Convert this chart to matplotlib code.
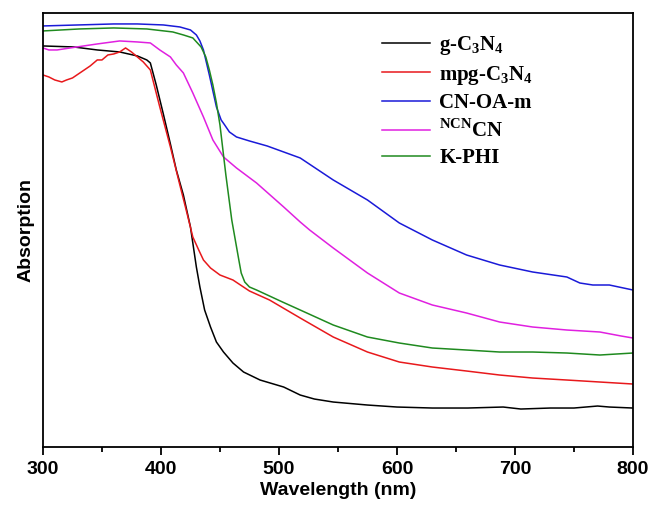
import matplotlib
matplotlib.use('Agg')
import matplotlib.pyplot as plt
from matplotlib.ticker import MultipleLocator

# Values (wavelength in nm, absorption in a.u.)
g_wl = [300, 326, 346, 365, 380, 388, 391, 396, 402, 408, 413, 419, 425, 430, 433,
        437, 442, 447, 453, 461, 470, 484, 504, 518, 530, 546, 575, 600, 630, 660,
        690, 705, 730, 750, 770, 780, 800]
g_abs = [4.01, 4.00, 3.97, 3.95, 3.91, 3.87, 3.84, 3.62, 3.33, 3.03, 2.77, 2.52,
         2.20, 1.80, 1.60, 1.37, 1.20, 1.05, 0.95, 0.84, 0.75, 0.67, 0.60, 0.52,
         0.48, 0.45, 0.42, 0.40, 0.39, 0.39, 0.40, 0.38, 0.39, 0.39, 0.41, 0.40,
         0.39]

mpg_wl = [300, 305, 310, 316, 320, 325, 330, 335, 340, 346, 350, 355, 360, 365,
          370, 375, 380, 385, 391, 399, 408, 416, 422, 427, 432, 436, 442, 450,
          461, 475, 492, 518, 546, 575, 602, 630, 659, 687, 715, 744, 772, 800]
mpg_abs = [3.72, 3.70, 3.67, 3.65, 3.67, 3.69, 3.73, 3.77, 3.81, 3.87, 3.87, 3.92,
           3.93, 3.95, 3.99, 3.95, 3.90, 3.85, 3.77, 3.40, 3.00, 2.62, 2.34, 2.10,
           1.97, 1.87, 1.79, 1.72, 1.67, 1.56, 1.47, 1.29, 1.10, 0.95, 0.85, 0.80,
           0.76, 0.72, 0.69, 0.67, 0.65, 0.63]

oa_wl = [300, 330, 360, 380, 402, 416, 425, 430, 433, 436, 441, 447, 451, 454,
         458, 464, 475, 490, 504, 518, 546, 575, 602, 630, 659, 687, 715, 744,
         755, 766, 780, 800]
oa_abs = [4.21, 4.22, 4.23, 4.23, 4.22, 4.20, 4.17, 4.12, 4.06, 3.97, 3.72, 3.40,
          3.27, 3.22, 3.15, 3.10, 3.06, 3.01, 2.95, 2.89, 2.67, 2.47, 2.24, 2.07,
          1.92, 1.82, 1.75, 1.70, 1.64, 1.62, 1.62, 1.57]

ncn_wl = [300, 305, 312, 323, 346, 365, 380, 391, 399, 408, 413, 419, 427, 436,
          444, 453, 464, 481, 504, 518, 526, 546, 575, 602, 630, 659, 687, 715,
          744, 772, 790, 800]
ncn_abs = [3.99, 3.97, 3.97, 3.99, 4.03, 4.06, 4.05, 4.04, 3.97, 3.90, 3.82, 3.74,
           3.54, 3.30, 3.07, 2.90, 2.79, 2.64, 2.40, 2.25, 2.17, 1.99, 1.74, 1.54,
           1.42, 1.34, 1.25, 1.20, 1.17, 1.15, 1.11, 1.09]

phi_wl = [300, 331, 360, 388, 410, 419, 427, 434, 438, 441, 444, 447, 450, 452,
          455, 460, 463, 466, 468, 471, 475, 481, 503, 518, 546, 575, 602, 630,
          659, 687, 715, 744, 772, 800]
phi_abs = [4.16, 4.18, 4.19, 4.18, 4.15, 4.12, 4.09, 4.00, 3.90, 3.77, 3.62, 3.44,
           3.22, 3.02, 2.72, 2.27, 2.07, 1.87, 1.74, 1.65, 1.60, 1.57, 1.45, 1.37,
           1.22, 1.10, 1.04, 0.99, 0.97, 0.95, 0.95, 0.94, 0.92, 0.94]

plt.rcParams['mathtext.fontset'] = 'custom'
plt.rcParams['mathtext.rm'] = 'Liberation Serif:bold'
plt.rcParams['mathtext.bf'] = 'Liberation Serif:bold'

fig = plt.figure(figsize=(6.57, 5.18), dpi=100)
ax = fig.add_axes([0.0654, 0.137, 0.898, 0.838])

ax.plot(g_wl, g_abs, color='black', lw=1.1, label='g-C$_3$N$_4$')
ax.plot(mpg_wl, mpg_abs, color='#e8191c', lw=1.1, label='mpg-C$_3$N$_4$')
ax.plot(oa_wl, oa_abs, color='#1a1ad8', lw=1.1, label='CN-OA-m')
ax.plot(ncn_wl, ncn_abs, color='#e020e0', lw=1.1, label=r'$^{\mathrm{NCN}}$CN')
ax.plot(phi_wl, phi_abs, color='#1f8a1f', lw=1.1, label='K-PHI')

ax.set_xlim(300, 800)
ax.set_ylim(0, 4.34)
ax.xaxis.set_major_locator(MultipleLocator(100))
ax.xaxis.set_minor_locator(MultipleLocator(50))
ax.set_yticks([])
ax.tick_params(axis='x', which='major', direction='out', length=6, width=1.3, pad=4)
ax.tick_params(axis='x', which='minor', direction='out', length=3.5, width=1.3)
for lbl in ax.get_xticklabels():
    lbl.set_fontfamily('Liberation Sans')
    lbl.set_fontweight('bold')
    lbl.set_fontsize(14)
for sp in ax.spines.values():
    sp.set_linewidth(1.3)

ax.set_xlabel('Wavelength (nm)', fontsize=14, fontweight='bold',
              family='Liberation Sans', labelpad=3)
ax.set_ylabel('Absorption', fontsize=14, fontweight='bold',
              family='Liberation Sans', labelpad=6)

ax.legend(loc='upper left', bbox_to_anchor=(0.55, 0.985), frameon=False,
          prop={'family': 'Liberation Serif', 'weight': 'bold', 'size': 15},
          handlelength=2.3, handletextpad=0.45, labelspacing=0.31, borderpad=0.2)

fig.savefig('out.png', dpi=100)
